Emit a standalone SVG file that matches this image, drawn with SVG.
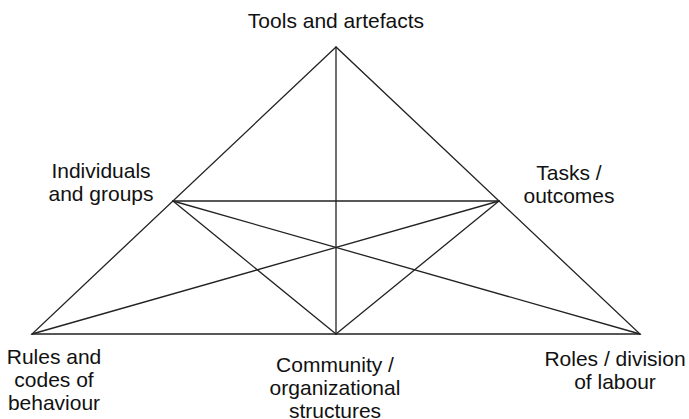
<svg xmlns="http://www.w3.org/2000/svg" width="689" height="419" viewBox="0 0 689 419">
<style>
.lbl{font-family:"Liberation Sans",Arial,sans-serif;font-size:21px;fill:#111;text-anchor:middle}
.ln{stroke:#222;stroke-width:1.3;fill:none;stroke-linecap:round;stroke-linejoin:miter}
</style>
<rect width="689" height="419" fill="#fff"/>
<g id="connectors" class="ln">
<polygon points="336,47 32,334 640,334"/>
<line x1="336" y1="47" x2="336" y2="334"/>
<line x1="173" y1="201" x2="499" y2="201"/>
<line x1="173" y1="201" x2="336" y2="334"/>
<line x1="499" y1="201" x2="336" y2="334"/>
<line x1="173" y1="201" x2="640" y2="334"/>
<line x1="499" y1="201" x2="32" y2="334"/>
</g>
<g id="tools"><text class="lbl" x="336" y="28">Tools and artefacts</text></g>
<g id="individuals"><text class="lbl" x="101" y="178">Individuals</text><text class="lbl" x="101" y="201">and groups</text></g>
<g id="tasks"><text class="lbl" x="569" y="180">Tasks /</text><text class="lbl" x="569" y="203">outcomes</text></g>
<g id="rules"><text class="lbl" x="54" y="364">Rules and</text><text class="lbl" x="54" y="387">codes of</text><text class="lbl" x="54" y="410">behaviour</text></g>
<g id="community"><text class="lbl" x="335" y="372">Community /</text><text class="lbl" x="335" y="395">organizational</text><text class="lbl" x="335" y="418">structures</text></g>
<g id="roles"><text class="lbl" x="615" y="366">Roles / division</text><text class="lbl" x="615" y="389">of labour</text></g>
</svg>
